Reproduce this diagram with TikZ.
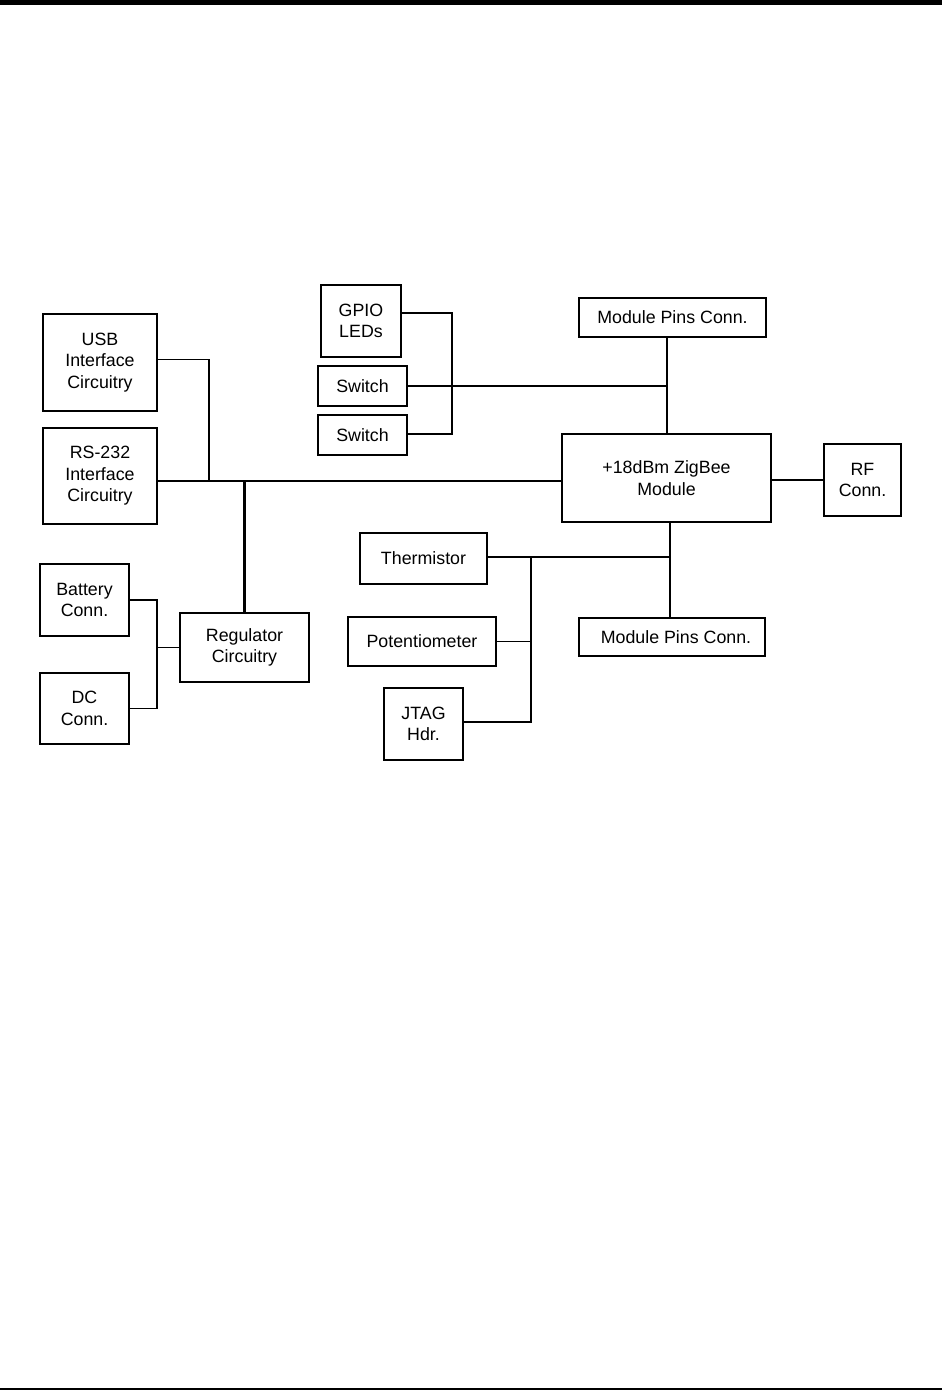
\documentclass[tikz,border=0pt]{standalone}
\usepackage{fontspec}
\setmainfont{Liberation Sans}
\usepackage{tikz}
\usetikzlibrary{positioning}

\begin{document}
\begin{tikzpicture}[x=1pt, y=-1pt,
  font=\fontsize{17.8}{21.5}\selectfont,
  box/.style={draw, line width=1.2pt, inner sep=0pt, align=center},
  boxb/.style={box, line width=2pt},
  wire/.style={line width=1.1pt},
  bus/.style={line width=2.2pt}]
\useasboundingbox (0,0) rectangle (942,1390);
% page rules
\fill (0,0) rectangle (942,5);
\draw[line width=2pt] (0,1389) -- (942,1389);

% left side
\node[boxb, minimum width=114pt, minimum height=97pt] (usb) at (100,362.5) {USB\\Interface\\Circuitry};
\node[boxb, minimum width=114pt, minimum height=96pt] (rs232) at (100,476) {RS-232\\Interface\\Circuitry};
\node[boxb, minimum width=89pt, minimum height=72pt] (battery) at (84.5,600) {Battery\\Conn.};
\node[box, minimum width=89pt, minimum height=71pt] (dc) at (84.5,708.5) {DC\\Conn.};
\node[box, minimum width=129pt, minimum height=69pt] (reg) at (244.5,647.5) {Regulator\\Circuitry};

% GPIO and switches
\node[boxb, minimum width=80pt, minimum height=72pt] (gpio) at (361,321) {GPIO\\LEDs};
\node[box, minimum width=89pt, minimum height=40pt] (sw1) at (362.5,386) {Switch};
\node[box, minimum width=89pt, minimum height=40pt] (sw2) at (362.5,435) {Switch};

% module
\node[box, minimum width=187pt, minimum height=39pt] (mpc1) at (672.5,317.5) {Module Pins Conn.};
\node[boxb, minimum width=209pt, minimum height=88pt] (zigbee) at (666.5,478) {+18dBm ZigBee\\Module};
\node[boxb, minimum width=77pt, minimum height=72pt] (rf) at (862.5,480) {RF\\Conn.};
\node[box, minimum width=186pt, minimum height=38pt] (mpc2) at (672,637) {\hspace{8pt}Module Pins Conn.};

% sensors
\node[box, minimum width=127pt, minimum height=51pt] (therm) at (423.5,558.5) {Thermistor};
\node[boxb, minimum width=148pt, minimum height=49pt] (pot) at (422,641.5) {Potentiometer};
\node[boxb, minimum width=79pt, minimum height=72pt] (jtag) at (423.5,724) {JTAG\\Hdr.};

% junctions
\coordinate (jusb) at (209,481);
\coordinate (jreg) at (245,481);
\coordinate (jpwr) at (157,648);
\coordinate (jgpio) at (452,386);
\coordinate (jtop) at (667,386);
\coordinate (jbot) at (670,557);
\coordinate (jsens) at (531,557);

% connectors
\draw[wire] ([yshift=3pt]usb.east) -| (jusb);
\draw[wire] (rs232.east |- jreg) -- (zigbee.west |- jreg);
\draw[bus] (reg.north |- jreg) -- (reg.north);
\draw[wire] (battery.east) -| (jpwr) |- (dc.east);
\draw[wire] (reg.west -| jpwr) -- (reg.west);
\draw[wire] ([yshift=8pt]gpio.east) -| (jgpio) |- ([yshift=1pt]sw2.east);
\draw[bus] (sw1.east) -- (jtop);
\draw[bus] (jtop |- mpc1.south) -- (jtop |- zigbee.north);
\draw[bus] (rf.west -| zigbee.east) -- (rf.west);
\draw[bus] (jbot |- zigbee.south) -- (jbot |- mpc2.north);
\draw[bus] ([yshift=1.5pt]therm.east) -- (jbot);
\draw[wire] (jsens) |- ([yshift=2pt]jtag.east);
\draw[wire] (pot.east) -- (pot.east -| jsens);
\end{tikzpicture}
\end{document}
